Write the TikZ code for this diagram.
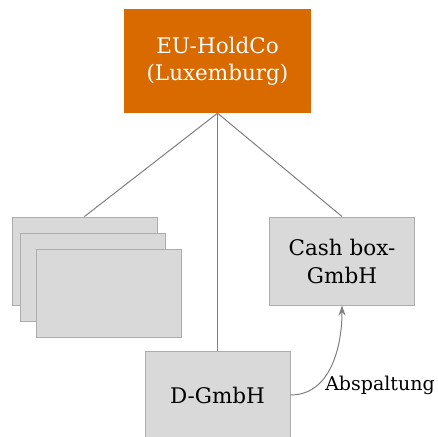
\documentclass[tikz,border=0pt]{standalone}
\usepackage{fontspec}
\setmainfont{DejaVu Serif}
\usetikzlibrary{arrows.meta}
\definecolor{holdorange}{RGB}{217,106,0}
\definecolor{boxfill}{RGB}{217,217,217}
\definecolor{boxline}{RGB}{172,172,172}
\definecolor{linkgray}{RGB}{128,128,128}
\tikzset{
  holdbox/.style={rectangle, fill=holdorange, draw=none, text=white,
    minimum width=187pt, minimum height=104pt, align=center,
    font=\fontsize{21.5}{27}\selectfont, inner sep=0pt},
  entity/.style={rectangle, fill=boxfill, draw=boxline, line width=1pt,
    minimum width=145pt, minimum height=88pt, align=center,
    font=\fontsize{21.5}{28}\selectfont, inner sep=0pt},
  link/.style={draw=linkgray, line width=1pt},
  spinoff/.style={draw=linkgray, line width=1pt, -{Stealth[length=10pt,width=7pt]}}
}
\begin{document}
\begin{tikzpicture}[x=1pt,y=-1pt]
  \useasboundingbox (0,0) rectangle (438,436);
  % parent company
  \node[holdbox] (hold) at (217.5,61) {EU-HoldCo\\(Luxemburg)};
  % stack of further subsidiaries
  \node[entity] (s1) at (84.5,261) {};
  \node[entity] (s2) at (92.5,277) {};
  \node[entity] (s3) at (109,293) {};
  % cash box and German subsidiary
  \node[entity] (cash) at (342,261) {Cash box-\\GmbH};
  \node[entity] (dg) at (217.5,395) {D-GmbH};
  % ownership lines
  \draw[link] (hold.south) -- (s1.north);
  \draw[link] (hold.south) -- (cash.north);
  \draw[link] (hold.south) -- (dg.north);
  % spin-off
  \draw[spinoff] (dg.east) to[out=0,in=-90] (cash.south);
  \node[font=\fontsize{19}{23}\selectfont] (lab) at (380,385) {Abspaltung};
\end{tikzpicture}
\end{document}
